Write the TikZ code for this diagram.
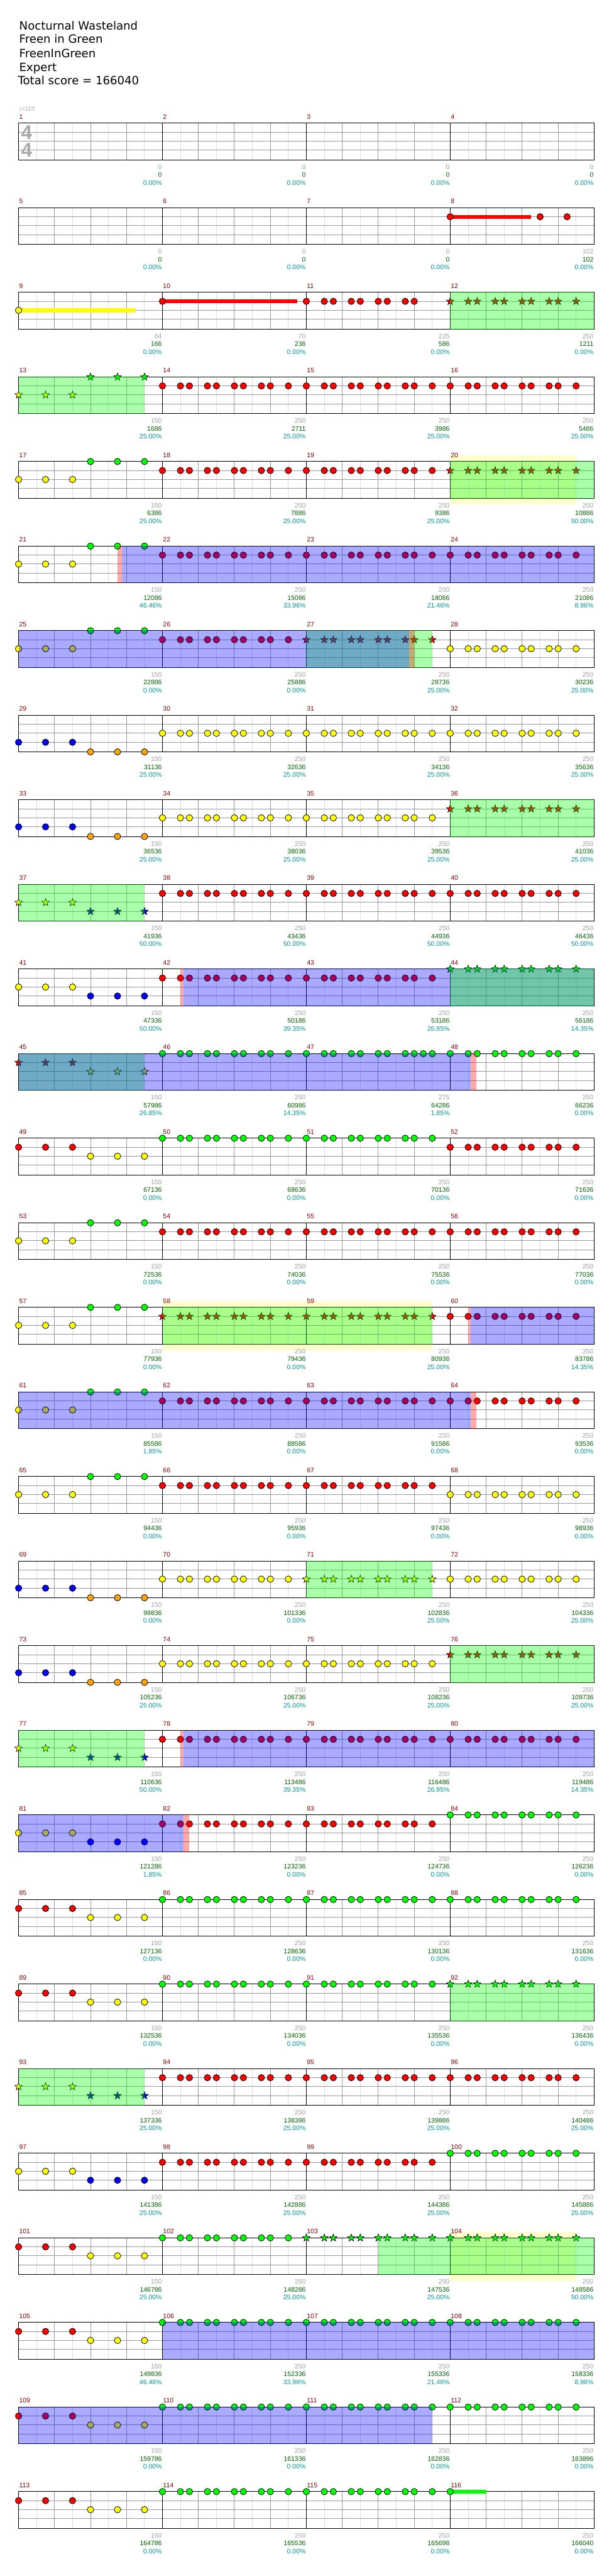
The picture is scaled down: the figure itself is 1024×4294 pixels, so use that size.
\documentclass[tikz,border=0pt]{standalone}
\usepackage{fontspec}
\setmainfont{Liberation Sans}
\newfontfamily\titlefont{DejaVu Sans}
\newfontfamily\symfont{DejaVu Sans}
\usetikzlibrary{calc}
\definecolor{ln0}{RGB}{0,255,0}
\definecolor{ln1}{RGB}{255,0,0}
\definecolor{ln2}{RGB}{255,255,0}
\definecolor{ln3}{RGB}{0,0,255}
\definecolor{ln4}{RGB}{255,165,0}
\definecolor{mnum}{RGB}{139,0,0}
\definecolor{lgray}{RGB}{160,160,160}
\definecolor{lgreen}{RGB}{0,100,0}
\definecolor{lcyan}{RGB}{0,153,153}
\definecolor{gridA}{RGB}{153,153,153}
\definecolor{gridB}{RGB}{221,221,221}
\definecolor{soloy}{RGB}{255,255,204}
\definecolor{tsig}{RGB}{170,170,170}
\newcommand\MPOS[1]{%
  \pgfmathtruncatemacro\mrow{int((#1-1)/4)}%
  \pgfmathtruncatemacro\mcol{mod(#1-1,4)}%
  \pgfmathsetmacro\xo{31+240*\mcol}%
  \pgfmathsetmacro\yo{205.3+141*\mrow}}
\def\PA{0,2,3,5,6,8,9,11,12,14}
\newcommand\NT[3]{\MPOS{#1}\pgfmathsetmacro\ly{15*#2+(#2==4)}\edef\tmplist{#3}%
  \foreach \p in \tmplist {\filldraw[fill=ln#2,draw=black,line width=0.8pt] ({\xo+15*\p},{\yo+\ly}) circle (5.4);}}
\newcommand\ST[3]{\MPOS{#1}\pgfmathsetmacro\ly{15*#2+(#2==4)}\edef\tmplist{#3}%
  \foreach \p in \tmplist {\filldraw[fill=ln#2,draw=black,line width=0.7pt,shift={({\xo+15*\p},{\yo+\ly})}]
   (270:6.6) -- (306:2.7) -- (342:6.6) -- (18:2.7) -- (54:6.6) -- (90:2.7) -- (126:6.6) -- (162:2.7) -- (198:6.6) -- (234:2.7) -- cycle;}}
\newcommand\SUS[4]{\MPOS{#1}\pgfmathsetmacro\ly{15*#2+(#2==4)}%
  \fill[ln#2] ({\xo+15*#3},{\yo+\ly-3.2}) rectangle ({\xo+#4},{\yo+\ly+3.2});}
\newcommand\LB[4]{\MPOS{#1}%
  \node[lab,text=lgray] (g#1) at ({\xo+239.5},{\yo+77}) {#2};
  \node[lab,text=lgreen] (s#1) at ({\xo+239.5},{\yo+90}) {#3};
  \node[lab,text=lcyan] (p#1) at ({\xo+239.5},{\yo+103}) {#4};}
\newcommand\OV[4]{\pgfmathsetmacro\yo{205.3+141*(#2-1)}%
  \fill[#1,fill opacity=0.333] (#3,{\yo-0.5}) rectangle (#4,{\yo+61.5});}
\newcommand\SOLO[3]{\pgfmathsetmacro\yo{205.3+141*(#1-1)}%
  \fill[soloy] (#2,{\yo-10}) rectangle (#3,{\yo+71.5});}
\begin{document}
\begin{tikzpicture}[x=1pt,y=-1pt,line width=1pt,
  lab/.style={font=\fontsize{11}{13}\selectfont,inner sep=0pt,anchor=base east},
  mnumst/.style={font=\fontsize{11}{13}\selectfont,text=mnum,inner sep=0pt,anchor=base west},
  ttl/.style={font=\titlefont\fontsize{19}{23}\selectfont,inner sep=0pt,anchor=base west}]
\useasboundingbox (0,0) rectangle (1024,4294);
\fill[white] (0,0) rectangle (1024,4294);
% header
\node[ttl] (t1) at (31.7,49.3) {Nocturnal Wasteland};
\node[ttl] (t2) at (31.7,72.3) {Freen in Green};
\node[ttl] (t3) at (31.7,95.5) {FreenInGreen};
\node[ttl] (t4) at (31.7,118.5) {Expert};
\node[ttl] (t5) at (29.5,141.5) {Total score = 166040};
\node[inner sep=0pt,anchor=base west,text=tsig,font=\fontsize{10}{12}\selectfont] (tempo) at (31,185.5) {{\symfont ♩}=110};
% solo backgrounds
\SOLO{5}{751}{961}
\SOLO{15}{271}{721}
\SOLO{26}{751}{961}
% grids
\foreach \r in {0,...,28}{
  \pgfmathsetmacro\yo{205.3+141*\r}
  \foreach \j in {0,...,15} \draw[gridB] ({61+60*\j},\yo) -- ++(0,61);
  \foreach \j in {1,...,15} \draw[gridA] ({31+60*\j},\yo) -- ++(0,61);
  \foreach \k in {1,2,3} \draw[gridA] (31,{\yo+15*\k}) -- (991,{\yo+15*\k});
  \foreach \j in {1,2,3} \draw[black] ({31+240*\j},\yo) -- ++(0,61);
  \draw[black] (31,\yo) rectangle (991,{\yo+61});
}
\node[inner sep=0pt,text=tsig,font=\bfseries\fontsize{33}{33}\selectfont] (ts1) at (44.5,220.5) {4};
\node[inner sep=0pt,text=tsig,font=\bfseries\fontsize{33}{33}\selectfont] (ts2) at (44.5,250.5) {4};
% measure numbers
\foreach \m in {1,...,116}{\MPOS{\m}\node[mnumst] (m\m) at ({\xo+0.5},{\yo-7}) {\m};}
% ---------- notes ----------
\SUS{8}{1}{0}{134.7}\NT{8}{1}{0,10,13}
\SUS{9}{2}{0}{194.7}\NT{9}{2}{0}
\SUS{10}{1}{0}{224.7}\NT{10}{1}{0}
\NT{11}{1}{0,2,3,5,6,8,9,11,12}
\ST{12}{1}{\PA}
\ST{13}{2}{0,3,6}\ST{13}{0}{8,11,14}
\NT{14}{1}{\PA}\NT{15}{1}{\PA}\NT{16}{1}{\PA}
\NT{17}{2}{0,3,6}\NT{17}{0}{8,11,14}
\NT{18}{1}{\PA}\NT{19}{1}{\PA}\ST{20}{1}{\PA}
\NT{21}{2}{0,3,6}\NT{21}{0}{8,11,14}
\NT{22}{1}{\PA}\NT{23}{1}{\PA}\NT{24}{1}{\PA}
\NT{25}{2}{0,3,6}\NT{25}{0}{8,11,14}
\NT{26}{1}{\PA}\ST{27}{1}{\PA}\NT{28}{2}{\PA}
\NT{29}{3}{0,3,6}\NT{29}{4}{8,11,14}
\NT{30}{2}{\PA}\NT{31}{2}{\PA}\NT{32}{2}{\PA}
\NT{33}{3}{0,3,6}\NT{33}{4}{8,11,14}
\NT{34}{2}{\PA}\NT{35}{2}{\PA}\ST{36}{1}{\PA}
\ST{37}{2}{0,3,6}\ST{37}{3}{8,11,14}
\NT{38}{1}{\PA}\NT{39}{1}{\PA}\NT{40}{1}{\PA}
\NT{41}{2}{0,3,6}\NT{41}{3}{8,11,14}
\NT{42}{1}{\PA}\NT{43}{1}{\PA}\ST{44}{0}{\PA}
\ST{45}{1}{0,3,6}\ST{45}{2}{8,11,14}
\NT{46}{0}{\PA}\NT{47}{0}{0,2,3,5,6,8,9,11,12,13,14}\NT{48}{0}{\PA}
\NT{49}{1}{0,3,6}\NT{49}{2}{8,11,14}
\NT{50}{0}{\PA}\NT{51}{0}{\PA}\NT{52}{1}{\PA}
\NT{53}{2}{0,3,6}\NT{53}{0}{8,11,14}
\NT{54}{1}{\PA}\NT{55}{1}{\PA}\NT{56}{1}{\PA}
\NT{57}{2}{0,3,6}\NT{57}{0}{8,11,14}
\ST{58}{1}{\PA}\ST{59}{1}{\PA}\NT{60}{1}{\PA}
\NT{61}{2}{0,3,6}\NT{61}{0}{8,11,14}
\NT{62}{1}{\PA}\NT{63}{1}{\PA}\NT{64}{1}{\PA}
\NT{65}{2}{0,3,6}\NT{65}{0}{8,11,14}
\NT{66}{1}{\PA}\NT{67}{1}{\PA}\NT{68}{2}{\PA}
\NT{69}{3}{0,3,6}\NT{69}{4}{8,11,14}
\NT{70}{2}{\PA}\ST{71}{2}{\PA}\NT{72}{2}{\PA}
\NT{73}{3}{0,3,6}\NT{73}{4}{8,11,14}
\NT{74}{2}{\PA}\NT{75}{2}{\PA}\ST{76}{1}{\PA}
\ST{77}{2}{0,3,6}\ST{77}{3}{8,11,14}
\NT{78}{1}{\PA}\NT{79}{1}{\PA}\NT{80}{1}{\PA}
\NT{81}{2}{0,3,6}\NT{81}{3}{8,11,14}
\NT{82}{1}{\PA}\NT{83}{1}{\PA}\NT{84}{0}{\PA}
\NT{85}{1}{0,3,6}\NT{85}{2}{8,11,14}
\NT{86}{0}{\PA}\NT{87}{0}{\PA}\NT{88}{0}{\PA}
% rows 23-29 (approx)
\NT{89}{1}{0,3,6}\NT{89}{2}{8,11,14}
\NT{90}{0}{\PA}\NT{91}{0}{\PA}\ST{92}{0}{\PA}
\ST{93}{2}{0,3,6}\ST{93}{3}{8,11,14}
\NT{94}{1}{\PA}\NT{95}{1}{\PA}\NT{96}{1}{\PA}
\NT{97}{2}{0,3,6}\NT{97}{3}{8,11,14}
\NT{98}{1}{\PA}\NT{99}{1}{\PA}\NT{100}{0}{\PA}
\NT{101}{1}{0,3,6}\NT{101}{2}{8,11,14}
\NT{102}{0}{\PA}\ST{103}{0}{\PA}\ST{104}{0}{\PA}
\NT{105}{1}{0,3,6}\NT{105}{2}{8,11,14}
\NT{106}{0}{\PA}\NT{107}{0}{\PA}\NT{108}{0}{\PA}
\NT{109}{1}{0,3,6}\NT{109}{2}{8,11,14}
\NT{110}{0}{\PA}\NT{111}{0}{\PA}\NT{112}{0}{\PA}
\NT{113}{1}{0,3,6}\NT{113}{2}{8,11,14}
\NT{114}{0}{\PA}\NT{115}{0}{\PA}\SUS{116}{0}{0}{60}\NT{116}{0}{0}
% ---------- overlays ----------
\OV{ln0}{3}{751}{991}\OV{ln0}{4}{31}{241}
\OV{ln0}{5}{751}{991}
\OV{ln1}{6}{196}{203}\OV{ln3}{6}{203}{991}
\OV{ln0}{7}{511}{721}\OV{ln3}{7}{31}{682}\OV{ln1}{7}{682}{691}
\OV{ln0}{9}{751}{991}\OV{ln0}{10}{31}{241}
\OV{ln1}{11}{301}{306}\OV{ln3}{11}{306}{991}\OV{ln0}{11}{751}{991}
\OV{ln0}{12}{31}{241}\OV{ln3}{12}{31}{785}\OV{ln1}{12}{785}{795}
\OV{ln0}{15}{271}{721}\OV{ln1}{15}{781}{785}\OV{ln3}{15}{785}{991}
\OV{ln3}{16}{31}{785}\OV{ln1}{16}{785}{795}
\OV{ln0}{18}{511}{721}
\OV{ln0}{19}{751}{991}\OV{ln0}{20}{31}{241}
\OV{ln1}{20}{301}{306}\OV{ln3}{20}{306}{991}
\OV{ln3}{21}{31}{306}\OV{ln1}{21}{306}{316}
\OV{ln0}{23}{751}{991}\OV{ln0}{24}{31}{241}
\OV{ln0}{26}{631}{991}
\OV{ln3}{27}{271}{991}
\OV{ln3}{28}{31}{721}
% ---------- labels ----------
\LB{1}{0}{0}{0.00\%}\LB{2}{0}{0}{0.00\%}\LB{3}{0}{0}{0.00\%}\LB{4}{0}{0}{0.00\%}
\LB{5}{0}{0}{0.00\%}\LB{6}{0}{0}{0.00\%}\LB{7}{0}{0}{0.00\%}\LB{8}{102}{102}{0.00\%}
\LB{9}{64}{166}{0.00\%}\LB{10}{70}{236}{0.00\%}\LB{11}{225}{586}{0.00\%}\LB{12}{250}{1211}{0.00\%}
\LB{13}{150}{1686}{25.00\%}\LB{14}{250}{2711}{25.00\%}\LB{15}{250}{3986}{25.00\%}\LB{16}{250}{5486}{25.00\%}
\LB{17}{150}{6386}{25.00\%}\LB{18}{250}{7886}{25.00\%}\LB{19}{250}{9386}{25.00\%}\LB{20}{250}{10886}{50.00\%}
\LB{21}{150}{12086}{46.46\%}\LB{22}{250}{15086}{33.96\%}\LB{23}{250}{18086}{21.46\%}\LB{24}{250}{21086}{8.96\%}
\LB{25}{150}{22886}{0.00\%}\LB{26}{250}{25886}{0.00\%}\LB{27}{250}{28736}{25.00\%}\LB{28}{250}{30236}{25.00\%}
\LB{29}{150}{31136}{25.00\%}\LB{30}{250}{32636}{25.00\%}\LB{31}{250}{34136}{25.00\%}\LB{32}{250}{35636}{25.00\%}
\LB{33}{150}{36536}{25.00\%}\LB{34}{250}{38036}{25.00\%}\LB{35}{250}{39536}{25.00\%}\LB{36}{250}{41036}{25.00\%}
\LB{37}{150}{41936}{50.00\%}\LB{38}{250}{43436}{50.00\%}\LB{39}{250}{44936}{50.00\%}\LB{40}{250}{46436}{50.00\%}
\LB{41}{150}{47336}{50.00\%}\LB{42}{250}{50186}{39.35\%}\LB{43}{250}{53186}{26.85\%}\LB{44}{250}{56186}{14.35\%}
\LB{45}{150}{57986}{26.85\%}\LB{46}{250}{60986}{14.35\%}\LB{47}{275}{64286}{1.85\%}\LB{48}{250}{66236}{0.00\%}
\LB{49}{150}{67136}{0.00\%}\LB{50}{250}{68636}{0.00\%}\LB{51}{250}{70136}{0.00\%}\LB{52}{250}{71636}{0.00\%}
\LB{53}{150}{72536}{0.00\%}\LB{54}{250}{74036}{0.00\%}\LB{55}{250}{75536}{0.00\%}\LB{56}{250}{77036}{0.00\%}
\LB{57}{150}{77936}{0.00\%}\LB{58}{250}{79436}{0.00\%}\LB{59}{250}{80936}{25.00\%}\LB{60}{250}{83786}{14.35\%}
\LB{61}{150}{85586}{1.85\%}\LB{62}{250}{88586}{0.00\%}\LB{63}{250}{91586}{0.00\%}\LB{64}{250}{93536}{0.00\%}
\LB{65}{150}{94436}{0.00\%}\LB{66}{250}{95936}{0.00\%}\LB{67}{250}{97436}{0.00\%}\LB{68}{250}{98936}{0.00\%}
\LB{69}{150}{99836}{0.00\%}\LB{70}{250}{101336}{0.00\%}\LB{71}{250}{102836}{25.00\%}\LB{72}{250}{104336}{25.00\%}
\LB{73}{150}{105236}{25.00\%}\LB{74}{250}{106736}{25.00\%}\LB{75}{250}{108236}{25.00\%}\LB{76}{250}{109736}{25.00\%}
\LB{77}{150}{110636}{50.00\%}\LB{78}{250}{113486}{39.35\%}\LB{79}{250}{116486}{26.85\%}\LB{80}{250}{119486}{14.35\%}
\LB{81}{150}{121286}{1.85\%}\LB{82}{250}{123236}{0.00\%}\LB{83}{250}{124736}{0.00\%}\LB{84}{250}{126236}{0.00\%}
\LB{85}{150}{127136}{0.00\%}\LB{86}{250}{128636}{0.00\%}\LB{87}{250}{130136}{0.00\%}\LB{88}{250}{131636}{0.00\%}
\LB{89}{150}{132536}{0.00\%}\LB{90}{250}{134036}{0.00\%}\LB{91}{250}{135536}{0.00\%}\LB{92}{250}{136436}{0.00\%}
\LB{93}{150}{137336}{25.00\%}\LB{94}{250}{138386}{25.00\%}\LB{95}{250}{139886}{25.00\%}\LB{96}{250}{140486}{25.00\%}
\LB{97}{150}{141386}{25.00\%}\LB{98}{250}{142886}{25.00\%}\LB{99}{250}{144386}{25.00\%}\LB{100}{250}{145886}{25.00\%}
\LB{101}{150}{146786}{25.00\%}\LB{102}{250}{148286}{25.00\%}\LB{103}{250}{147536}{25.00\%}\LB{104}{250}{148586}{50.00\%}
\LB{105}{150}{149836}{46.46\%}\LB{106}{250}{152336}{33.96\%}\LB{107}{250}{155336}{21.46\%}\LB{108}{250}{158336}{8.96\%}
\LB{109}{150}{159786}{0.00\%}\LB{110}{250}{161336}{0.00\%}\LB{111}{250}{162836}{0.00\%}\LB{112}{250}{163896}{0.00\%}
\LB{113}{150}{164786}{0.00\%}\LB{114}{250}{165536}{0.00\%}\LB{115}{250}{165698}{0.00\%}\LB{116}{250}{166040}{0.00\%}
\end{tikzpicture}
\end{document}
